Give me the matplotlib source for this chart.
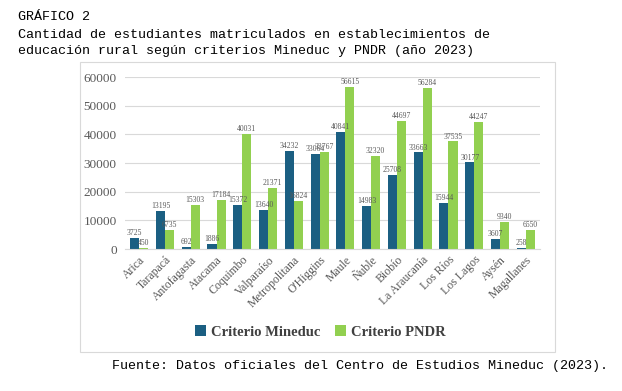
import numpy as np
import matplotlib.pyplot as plt
from matplotlib.patches import Rectangle

regiones = ['Arica', 'Tarapacá', 'Antofagasta', 'Atacama', 'Coquimbo', 'Valparaíso',
            'Metropolitana', "O'Higgins", 'Maule', 'Ñuble', 'Biobío', 'La Araucanía',
            'Los Ríos', 'Los Lagos', 'Aysén', 'Magallanes']
mineduc = [3725, 13195, 692, 1886, 15372, 13640, 34232, 33064, 40841, 14983,
           25708, 33663, 15944, 30177, 3607, 258]
pndr = [450, 6735, 15303, 17184, 40031, 21371, 16824, 33767, 56615, 32320,
        44697, 56284, 37535, 44247, 9340, 6550]

azul = '#1b5f82'
verde = '#92d050'
W, H = 622, 391

fig = plt.figure(figsize=(W / 100, H / 100), dpi=100)

# marco gris del grafico
fig.patches.append(Rectangle((80 / W, 1 - 352 / H), 475 / W, 290 / H, transform=fig.transFigure,
                             fill=False, edgecolor='#d9d9d9', linewidth=0.8))

ax = fig.add_axes([125 / W, 1 - 249 / H, 415 / W, 172 / H])
x = np.arange(len(regiones))
w = 0.35
b1 = ax.bar(x - w / 2, mineduc, w, color=azul, label='Criterio Mineduc')
b2 = ax.bar(x + w / 2, pndr, w, color=verde, label='Criterio PNDR')

for bars, vals in ((b1, mineduc), (b2, pndr)):
    for r, v in zip(bars, vals):
        ax.text(r.get_x() + r.get_width() / 2, v + 300, str(v), ha='center', va='bottom',
                fontsize=5.5, color='#595959', family='Liberation Serif')

ax.set_ylim(0, 60000)
ax.set_xlim(-0.55, len(regiones) - 0.45)
ax.set_yticks(range(0, 60001, 10000))
ax.yaxis.grid(True, color='#d9d9d9', linewidth=0.8)
ax.set_axisbelow(True)
for s in ['top', 'right', 'left']:
    ax.spines[s].set_visible(False)
ax.spines['bottom'].set_color('#d9d9d9')
ax.tick_params(length=0)
ax.tick_params(axis='y', labelsize=9.5, labelcolor='#595959', pad=6)
ax.set_xticks(x)
ax.set_xticklabels(regiones, rotation=45, ha='right', rotation_mode='anchor',
                   fontsize=8.5, color='#595959')
for lab in ax.get_xticklabels() + ax.get_yticklabels():
    lab.set_family('Liberation Serif')

leg = fig.legend(loc='center', bbox_to_anchor=(320 / W, 1 - 332 / H), ncol=2, frameon=False,
                 prop={'family': 'Liberation Serif', 'weight': 'bold', 'size': 10.5},
                 handlelength=0.8, handleheight=0.8, handletextpad=0.3, columnspacing=1.0)
for t in leg.get_texts():
    t.set_color('#404040')

mono = 'Liberation Mono'
fig.text(18 / W, 1 - 17 / H, 'GRÁFICO 2', family=mono, fontsize=9.6, va='center')
fig.text(18 / W, 1 - 35 / H, 'Cantidad de estudiantes matriculados en establecimientos de',
         family=mono, fontsize=9.6, va='center')
fig.text(18 / W, 1 - 51 / H, 'educación rural según criterios Mineduc y PNDR (año 2023)',
         family=mono, fontsize=9.6, va='center')
fig.text(112 / W, 1 - 366 / H, 'Fuente: Datos oficiales del Centro de Estudios Mineduc (2023).',
         family=mono, fontsize=9.6, va='center')

fig.savefig('out.png', dpi=100)
